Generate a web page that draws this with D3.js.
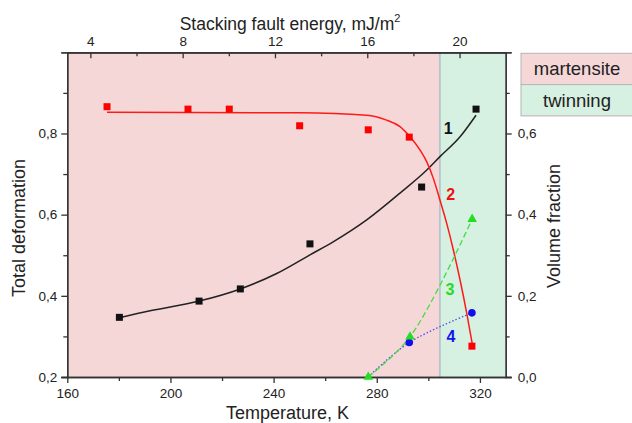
<!DOCTYPE html>
<html>
<head>
<meta charset="utf-8">
<script src="https://cdn.jsdelivr.net/npm/d3@7"></script>
<style>
  body { margin: 0; background: #fff; }
  text { font-family: "Liberation Sans", Arial, sans-serif; }
</style>
</head>
<body>
<div id="chart"></div>
<script>
// measured points (temperature K -> total deformation / volume fraction)
let redTemp = [175.4, 206.8, 222.8, 250.1, 276.7, 292.6, 316.9];
let redDef = [0.866, 0.860, 0.860, 0.819, 0.809, 0.791, 0.276];
let blackTemp = [180.2, 211.1, 227.1, 254.1, 297.4, 318.5];
let blackDef = [0.347, 0.387, 0.417, 0.528, 0.668, 0.860];
let greenTemp = [276.7, 292.9, 317.0];
let greenFrac = [0.0, 0.099, 0.389];
let blueTemp = [276.7, 292.6, 316.9];
let blueFrac = [0.0, 0.085, 0.158];

// fitted curves
let redFitTemp = [175.4, 250.1, 276.1, 283.8, 289.0, 292.9, 296.8, 299.4, 301.9, 304.5, 307.1, 309.7, 312.3, 314.9, 317.0];
let redFitDef = [0.852, 0.851, 0.845, 0.833, 0.817, 0.792, 0.759, 0.730, 0.690, 0.636, 0.579, 0.513, 0.439, 0.357, 0.283];
let blackFitTemp = [180.2, 192.1, 211.1, 227.1, 241.2, 254.1, 263.1, 276.1, 289.0, 299.4, 304.5, 312.3, 318.5];
let blackFitDef = [0.346, 0.363, 0.387, 0.417, 0.455, 0.501, 0.533, 0.587, 0.653, 0.710, 0.743, 0.792, 0.845];

// phase regions
let regionNames = ["martensite", "twinning"];
let regionBounds = [160, 304.5, 330];

// ticks
let tempTicks = [160, 200, 240, 280, 320];
let sfeTicks = [4, 8, 12, 16, 20];
let defTicks = [0.2, 0.4, 0.6, 0.8];
let fracTicks = [0.0, 0.2, 0.4, 0.6];

let width = 632, height = 423;
let plotLeft = 67.3, plotRight = 505.7, plotTop = 52.3, plotBottom = 377;

let svg = d3.select("#chart").append("svg")
  .attr("width", width)
  .attr("height", height);

let x = d3.scaleLinear().domain([160, 330]).range([plotLeft, plotRight]);
let xTop = d3.scaleLinear().domain([3, 22]).range([plotLeft, plotRight]);
let yLeft = d3.scaleLinear().domain([0.2, 1.0]).range([plotBottom, plotTop]);
let yRight = d3.scaleLinear().domain([0, 0.8]).range([plotBottom, plotTop]);

let regionColor = d3.scaleOrdinal().domain(regionNames).range(["#f5d7d8", "#d6f0e1"]);

// background regions
svg.selectAll("rect.region")
  .data(regionNames)
  .enter()
  .append("rect")
  .attr("class", "region")
  .attr("x", (d, i) => x(regionBounds[i]))
  .attr("y", plotTop)
  .attr("width", (d, i) => x(regionBounds[i + 1]) - x(regionBounds[i]))
  .attr("height", plotBottom - plotTop)
  .attr("fill", d => regionColor(d));

svg.append("line")
  .attr("x1", x(regionBounds[1])).attr("x2", x(regionBounds[1]))
  .attr("y1", plotTop).attr("y2", plotBottom)
  .attr("stroke", "#9fb4c6").attr("stroke-width", 1.2);

let comma = d => d3.format(".1f")(d).replace(".", ",");

// axes
let axisStyle = g => {
  g.selectAll("path.domain").attr("stroke", "#333").attr("stroke-width", 1.3);
  g.selectAll(".tick line").attr("stroke", "#333").attr("stroke-width", 1.3);
  g.selectAll("text").attr("font-size", "13.5px").attr("fill", "#222")
    .attr("font-family", "'Liberation Sans', Arial, sans-serif");
};

let minor = (g, axis) => g.call(axis.tickFormat("")).call(axisStyle);

svg.append("g").attr("transform", `translate(0,${plotBottom})`)
  .call(minor, d3.axisBottom(x).tickValues(d3.range(180, 330, 40)).tickSize(4).tickSizeOuter(0));
svg.append("g").attr("transform", `translate(0,${plotBottom})`)
  .call(d3.axisBottom(x).tickValues(tempTicks).tickSize(6).tickSizeOuter(0).tickPadding(5))
  .call(axisStyle);

svg.append("g").attr("transform", `translate(0,${plotTop})`)
  .call(minor, d3.axisBottom(xTop).tickValues(d3.range(6, 22, 4)).tickSize(4).tickSizeOuter(0));
svg.append("g").attr("transform", `translate(0,${plotTop})`)
  .call(d3.axisTop(xTop).tickValues(sfeTicks).tickSize(0).tickSizeOuter(0).tickPadding(6))
  .call(axisStyle);
svg.append("g").attr("transform", `translate(0,${plotTop})`)
  .call(minor, d3.axisBottom(xTop).tickValues(sfeTicks).tickSize(6).tickSizeOuter(0));

svg.append("g").attr("transform", `translate(${plotLeft},0)`)
  .call(minor, d3.axisLeft(yLeft).tickValues(d3.range(0.3, 1.0, 0.2)).tickSize(4).tickSizeOuter(6));
svg.append("g").attr("transform", `translate(${plotLeft},0)`)
  .call(d3.axisLeft(yLeft).tickValues(defTicks).tickFormat(comma).tickSize(6).tickSizeOuter(6).tickPadding(4))
  .call(axisStyle);

svg.append("g").attr("transform", `translate(${plotRight},0)`)
  .call(minor, d3.axisRight(yRight).tickValues(d3.range(0.1, 0.8, 0.2)).tickSize(4).tickSizeOuter(6));
svg.append("g").attr("transform", `translate(${plotRight},0)`)
  .call(d3.axisRight(yRight).tickValues(fracTicks).tickFormat(comma).tickSize(6).tickSizeOuter(6).tickPadding(6))
  .call(axisStyle);

// axis titles
svg.append("text").attr("x", 287.5).attr("y", 419).attr("text-anchor", "middle")
  .attr("font-size", "18px").attr("fill", "#222").text("Temperature, K");

let topTitle = svg.append("text").attr("x", 290).attr("y", 30).attr("text-anchor", "middle")
  .attr("font-size", "17.5px").attr("fill", "#222");
topTitle.append("tspan").text("Stacking fault energy, mJ/m");
topTitle.append("tspan").attr("font-size", "11px").attr("dy", -8).text("2");

svg.append("text").attr("transform", "translate(25,228) rotate(-90)").attr("text-anchor", "middle")
  .attr("font-size", "18px").attr("fill", "#222").text("Total deformation");
svg.append("text").attr("transform", "translate(560,226) rotate(-90)").attr("text-anchor", "middle")
  .attr("font-size", "18px").attr("fill", "#222").text("Volume fraction");

// fitted lines
let lineLeft = d3.line().x(d => x(d[0])).y(d => yLeft(d[1])).curve(d3.curveMonotoneX);
let lineRight = d3.line().x(d => x(d[0])).y(d => yRight(d[1])).curve(d3.curveCatmullRom);

svg.append("path").datum(d3.zip(blackFitTemp, blackFitDef))
  .attr("d", lineLeft).attr("fill", "none").attr("stroke", "#222").attr("stroke-width", 1.5);
svg.append("path").datum(d3.zip(redFitTemp, redFitDef))
  .attr("d", lineLeft).attr("fill", "none").attr("stroke", "#ff1a1a").attr("stroke-width", 1.5);
svg.append("path").datum(d3.zip(blueTemp, blueFrac))
  .attr("d", lineRight).attr("fill", "none").attr("stroke", "#4a4ae8").attr("stroke-width", 1.3)
  .attr("stroke-dasharray", "1.5,2");
svg.append("path").datum(d3.zip(greenTemp, greenFrac))
  .attr("d", lineRight).attr("fill", "none").attr("stroke", "#44dd44").attr("stroke-width", 1.3)
  .attr("stroke-dasharray", "6,3");

// markers
svg.selectAll("rect.black")
  .data(d3.zip(blackTemp, blackDef))
  .enter().append("rect").attr("class", "black")
  .attr("x", d => x(d[0]) - 3.5).attr("y", d => yLeft(d[1]) - 3.5)
  .attr("width", 7).attr("height", 7).attr("fill", "#111");

svg.selectAll("rect.red")
  .data(d3.zip(redTemp, redDef))
  .enter().append("rect").attr("class", "red")
  .attr("x", d => x(d[0]) - 3.5).attr("y", d => yLeft(d[1]) - 3.5)
  .attr("width", 7).attr("height", 7).attr("fill", "#ff0000");

svg.selectAll("circle.blue")
  .data(d3.zip(blueTemp, blueFrac).slice(1))
  .enter().append("circle").attr("class", "blue")
  .attr("cx", d => x(d[0])).attr("cy", d => yRight(d[1]))
  .attr("r", 3.8).attr("fill", "#1010ee");

svg.selectAll("path.green")
  .data(d3.zip(greenTemp, greenFrac))
  .enter().append("path").attr("class", "green")
  .attr("d", d3.symbol().type(d3.symbolTriangle).size(40))
  .attr("transform", d => `translate(${x(d[0])},${yRight(d[1])})`)
  .attr("fill", "#22dd22");

// curve numbers
let curveLabels = [
  { text: "1", t: 307.7, v: 0.813, axis: "left", color: "#111" },
  { text: "2", t: 308.7, v: 0.650, axis: "left", color: "#ee1111" },
  { text: "3", t: 308.4, v: 0.217, axis: "right", color: "#22dd22" },
  { text: "4", t: 308.8, v: 0.102, axis: "right", color: "#1515ee" }
];
svg.selectAll("text.num")
  .data(curveLabels)
  .enter().append("text").attr("class", "num")
  .attr("x", d => x(d.t))
  .attr("y", d => (d.axis === "left" ? yLeft(d.v) : yRight(d.v)) + 6)
  .attr("text-anchor", "middle").attr("font-size", "16px").attr("font-weight", "bold")
  .attr("fill", d => d.color).text(d => d.text);

// legend
let legend = svg.selectAll("g.legend")
  .data(regionNames)
  .enter().append("g").attr("class", "legend")
  .attr("transform", (d, i) => `translate(521,${53.3 + i * 31.3})`);
legend.append("rect").attr("width", 130).attr("height", 31.3)
  .attr("fill", d => regionColor(d)).attr("stroke", "#b5b5b5").attr("stroke-width", 1);
legend.append("text").attr("x", 56).attr("y", 22).attr("text-anchor", "middle")
  .attr("font-family", "Lato, 'Open Sans', sans-serif").attr("font-size", "18.5px").attr("fill", "#222")
  .text(d => d);
</script>
</body>
</html>
